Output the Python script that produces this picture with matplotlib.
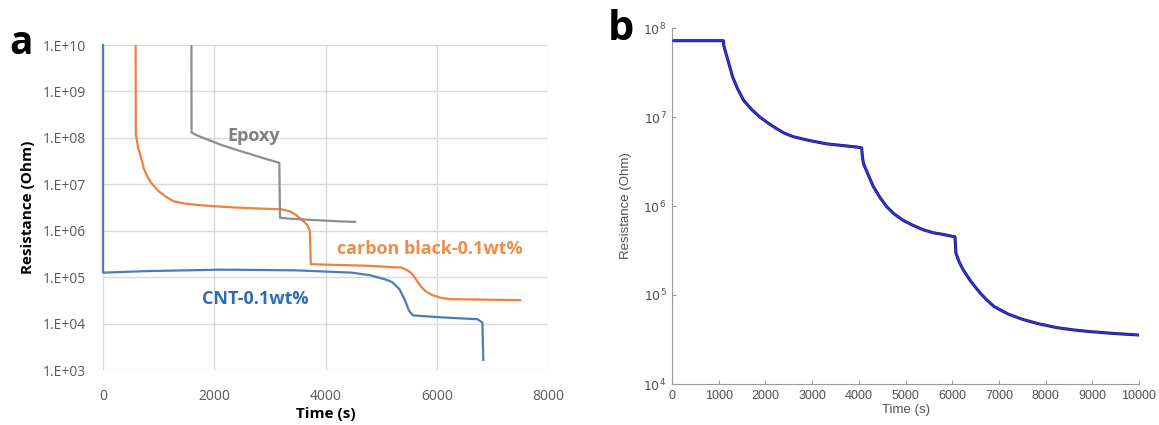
import matplotlib
matplotlib.use("Agg")
import matplotlib.pyplot as plt
from matplotlib.ticker import FixedLocator, FixedFormatter, NullLocator

# ---------------- Panel a data ----------------
cnt_t = [0, 0, 800, 2133, 3467, 4467, 4800, 5067, 5200, 5330, 5433, 5500, 5570, 6133, 6733, 6820, 6837]
cnt_r = [1e10, 1.25e5, 1.35e5, 1.45e5, 1.4e5, 1.25e5, 1.1e5, 9e4, 7.8e4, 5.5e4, 3.1e4, 1.9e4, 1.5e4,
         1.35e4, 1.24e4, 1.05e4, 1.65e3]

cb_t = [587, 590, 633, 700, 733, 800, 867, 1000, 1130, 1267, 1500, 1800, 2300, 2800, 3200, 3350, 3467,
        3580, 3667, 3720, 3735, 4800, 5367, 5450, 5533, 5600, 5667, 5730, 5800, 5900, 6067, 6250, 7500]
cb_r = [1e10, 1.2e8, 6e7, 3.2e7, 2.2e7, 1.45e7, 1.07e7, 7.1e6, 5.4e6, 4.3e6, 3.8e6, 3.5e6, 3.2e6, 3e6,
        2.9e6, 2.65e6, 2.2e6, 1.7e6, 1.35e6, 9.8e5, 1.9e5, 1.75e5, 1.6e5, 1.45e5, 1.25e5, 1.0e5, 7.6e4,
        6.0e4, 5e4, 4.2e4, 3.6e4, 3.35e4, 3.2e4]

ep_t = [1590, 1592, 1700, 1800, 2133, 2400, 2667, 2900, 3170, 3182, 3400, 3800, 4200, 4530]
ep_r = [1e10, 1.3e8, 1.12e8, 1e8, 7e7, 5.5e7, 4.4e7, 3.6e7, 2.9e7, 1.9e6, 1.8e6, 1.7e6, 1.6e6, 1.55e6]

a_yticks = [1e3, 1e4, 1e5, 1e6, 1e7, 1e8, 1e9, 1e10]
a_yticklabels = ["1.E+03", "1.E+04", "1.E+05", "1.E+06", "1.E+07", "1.E+08", "1.E+09", "1.E+10"]
a_xticks = [0, 2000, 4000, 6000, 8000]

# ---------------- Panel b data ----------------
b_t = [0, 1100, 1110, 1200, 1300, 1400, 1530, 1700, 1880, 2050, 2240, 2400, 2600, 2900, 3300, 3950,
       4060, 4080, 4100, 4200, 4310, 4450, 4600, 4750, 4950, 5150, 5380, 5600, 5800, 6060,
       6080, 6150, 6240, 6400, 6600, 6750, 6900, 7200, 7520, 7850, 8240, 8600, 8950, 9450, 10000]
b_r = [7.2e7, 7.2e7, 6.3e7, 4.3e7, 2.8e7, 2.1e7, 1.55e7, 1.22e7, 1.0e7, 8.6e6, 7.4e6, 6.6e6, 6.0e6,
       5.5e6, 5.0e6, 4.6e6, 4.5e6, 3.5e6, 3.0e6, 2.25e6, 1.66e6, 1.25e6, 9.8e5, 8.2e5, 6.9e5, 6.1e5,
       5.4e5, 5.0e5, 4.8e5, 4.5e5, 2.95e5, 2.35e5, 1.9e5, 1.42e5, 1.05e5, 8.7e4, 7.4e4, 6.1e4, 5.3e4,
       4.75e4, 4.3e4, 4.05e4, 3.88e4, 3.7e4, 3.55e4]

b_yticks = [1e4, 1e5, 1e6, 1e7, 1e8]
b_yticklabels = [r"$10^{4}$", r"$10^{5}$", r"$10^{6}$", r"$10^{7}$", r"$10^{8}$"]
b_xticks = [0, 1000, 2000, 3000, 4000, 5000, 6000, 7000, 8000, 9000, 10000]

W, H = 1159, 425
fig = plt.figure(figsize=(W / 100, H / 100), dpi=100)

# ---------------- Panel a ----------------
axa = fig.add_axes([103 / W, 1 - 370 / H, (548 - 103) / W, (370 - 45) / H])
axa.set_yscale("log")
axa.set_xlim(0, 8000)
axa.set_ylim(1e3, 1e10)
c_cnt = "#4A7EBB"
c_cb = "#EE8040"
c_ep = "#8E8E8E"
axa.plot(cnt_t, cnt_r, color=c_cnt, lw=1.6, clip_on=False, zorder=3)
axa.plot(cb_t, cb_r, color=c_cb, lw=1.6, zorder=3)
axa.plot(ep_t, ep_r, color=c_ep, lw=1.6, zorder=3)

axa.yaxis.set_major_locator(FixedLocator(a_yticks))
axa.yaxis.set_major_formatter(FixedFormatter(a_yticklabels))
axa.yaxis.set_minor_locator(NullLocator())
axa.set_xticks(a_xticks)
axa.set_xticklabels([str(v) for v in a_xticks])
for s in axa.spines.values():
    s.set_visible(False)
axa.grid(True, color="#DADADA", lw=1.0)
axa.tick_params(axis="both", length=0, labelsize=10, colors="#595959")
axa.tick_params(axis="y", pad=12)
axa.tick_params(axis="x", pad=14)
for lab in axa.get_xticklabels() + axa.get_yticklabels():
    lab.set_fontfamily("Open Sans")
axa.set_ylabel("Resistance (Ohm)", fontsize=11, fontweight="bold", family="Open Sans", labelpad=6)
axa.set_xlabel("Time (s)", fontsize=11, fontweight="bold", family="Open Sans", labelpad=2)

axa.text(2700, 1.07e8, "Epoxy", color="#808080", fontsize=13, fontweight="bold",
         family="Open Sans", ha="center", va="center")
axa.text(5867, 4e5, "carbon black-0.1wt%", color="#F08C48", fontsize=13, fontweight="bold",
         family="Open Sans", ha="center", va="center")
axa.text(2733, 3.3e4, "CNT-0.1wt%", color="#2E6DB4", fontsize=13, fontweight="bold",
         family="Open Sans", ha="center", va="center")

fig.text(21 / W, 1 - 44 / H, "a", fontsize=28, fontweight="bold", family="Open Sans",
         ha="center", va="center")

# ---------------- Panel b ----------------
axb = fig.add_axes([672 / W, 1 - 384 / H, (1139 - 672) / W, (384 - 28) / H])
axb.set_yscale("log")
axb.set_xlim(0, 10000)
axb.set_ylim(1e4, 1e8)
axb.plot(b_t, b_r, color="#1A1A50", lw=2.2, zorder=2)
axb.plot(b_t, b_r, color="#3030F0", lw=1.2, zorder=3)
axb.yaxis.set_major_locator(FixedLocator(b_yticks))
axb.yaxis.set_major_formatter(FixedFormatter(b_yticklabels))
axb.yaxis.set_minor_locator(NullLocator())
axb.set_xticks(b_xticks)
axb.set_xticklabels([str(v) for v in b_xticks])
axb.spines["top"].set_visible(False)
axb.spines["right"].set_visible(False)
axb.spines["left"].set_color("#9A9A9A")
axb.spines["bottom"].set_color("#9A9A9A")
axb.tick_params(axis="both", direction="in", length=3, color="#9A9A9A",
                labelsize=9, labelcolor="#505050", pad=4)
for lab in axb.get_xticklabels() + axb.get_yticklabels():
    lab.set_fontfamily("Liberation Sans")
axb.set_ylabel("Resistance (Ohm)", fontsize=9.5, color="#505050", family="Liberation Sans", labelpad=8)
axb.set_xlabel("Time (s)", fontsize=9.5, color="#505050", family="Liberation Sans", labelpad=2)

fig.text(621 / W, 1 - 30 / H, "b", fontsize=30, fontweight="bold", family="Open Sans",
         ha="center", va="center")

fig.savefig("out.png", dpi=100, facecolor="white")
